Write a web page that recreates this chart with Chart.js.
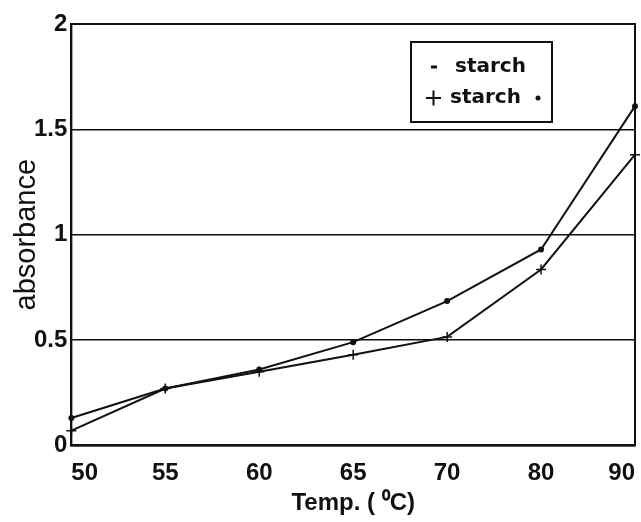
<!DOCTYPE html>
<html>
<head>
<meta charset="utf-8">
<script src="https://cdn.jsdelivr.net/npm/chart.js@4"></script>
<style>
  html, body { margin: 0; padding: 0; background: #fff; }
  #wrap { width: 641px; height: 522px; }
</style>
</head>
<body>
<div id="wrap"><canvas id="absChart" width="641" height="522"></canvas></div>
<script>
// Temperature categories (°C)
const temps = ['50', '55', '60', '65', '70', '80', '90'];

// Absorbance readings
const starch = [0.13, 0.27, 0.36, 0.49, 0.685, 0.93, 1.61];
const starchStar = [0.07, 0.27, 0.35, 0.43, 0.515, 0.835, 1.38];

const seriesLabels = ['starch', 'starch *'];
const markers = ['-', '+'];

// Frame round the plot area plus the boxed legend inside it
const framePlugin = {
    id: 'frameAndLegend',
    afterDraw(chart) {
        const { ctx, chartArea } = chart;
        ctx.save();
        ctx.strokeStyle = '#111';
        ctx.lineWidth = 2;
        ctx.strokeRect(chartArea.left, chartArea.top,
            chartArea.right - chartArea.left, chartArea.bottom - chartArea.top);

        // legend box
        const bx = 411, by = 42, bw = 141, bh = 80;
        ctx.lineWidth = 2;
        ctx.strokeRect(bx, by, bw, bh);
        ctx.fillStyle = '#111';
        ctx.font = 'bold 20px "DejaVu Sans"';
        ctx.textBaseline = 'middle';
        ctx.textAlign = 'left';
        chart.data.datasets.forEach((ds, i) => {
            const y = by + 25 + i * 31;
            if (markers[i] === '+') {
                ctx.beginPath();
                ctx.moveTo(426, y); ctx.lineTo(441, y);
                ctx.moveTo(433.5, y - 7.5); ctx.lineTo(433.5, y + 7.5);
                ctx.stroke();
                ctx.fillText(ds.label.replace(' *', ''), 450, y);
                ctx.beginPath();
                ctx.arc(538, y, 2.5, 0, Math.PI * 2);
                ctx.fill();
            } else {
                ctx.fillRect(431, y - 1.5, 6, 3);
                ctx.fillText(ds.label, 455, y);
            }
        });
        ctx.restore();
    }
};

new Chart(document.getElementById('absChart').getContext('2d'), {
    type: 'line',
    data: {
        labels: temps,
        datasets: [
            {
                label: seriesLabels[0],
                data: starch,
                borderColor: '#111',
                backgroundColor: '#111',
                borderWidth: 2,
                pointStyle: 'circle',
                pointRadius: 2,
                tension: 0
            },
            {
                label: seriesLabels[1],
                data: starchStar,
                borderColor: '#111',
                backgroundColor: '#111',
                borderWidth: 2,
                pointStyle: 'cross',
                pointRadius: 5,
                pointBorderWidth: 1.5,
                tension: 0
            }
        ]
    },
    options: {
        responsive: false,
        animation: false,
        layout: { autoPadding: false, padding: { top: 24, right: 6, left: 0, bottom: 4 } },
        plugins: {
            legend: { display: false },
            tooltip: { enabled: false }
        },
        scales: {
            x: {
                offset: false,
                grid: { display: false, drawTicks: true, tickLength: 14 },
                border: { display: true, color: '#111', width: 2 },
                ticks: {
                    color: '#111',
                    align: 'inner',
                    maxRotation: 0,
                    padding: 0,
                    font: { family: '"Liberation Sans"', size: 24, weight: 'bold' }
                },
                title: {
                    display: true,
                    text: 'Temp. ( \u2070C)',
                    color: '#111',
                    padding: { top: 1, bottom: 0 },
                    font: { family: '"Liberation Sans"', size: 24, weight: 'bold' }
                }
            },
            y: {
                min: 0,
                max: 2,
                grid: { color: '#111', lineWidth: 1.5, drawTicks: true, tickLength: 4, tickColor: 'rgba(0,0,0,0)' },
                border: { display: true, color: '#111', width: 2 },
                ticks: {
                    stepSize: 0.5,
                    color: '#111',
                    padding: 0,
                    callback: (v) => String(Number(v)),
                    font: { family: '"Liberation Sans"', size: 24, weight: 'bold' }
                },
                title: {
                    display: true,
                    text: 'absorbance',
                    color: '#111',
                    padding: { top: 12, bottom: -7 },
                    font: { family: '"Liberation Sans"', size: 29, lineHeight: 1 }
                }
            }
        }
    },
    plugins: [framePlugin]
});
</script>
</body>
</html>
